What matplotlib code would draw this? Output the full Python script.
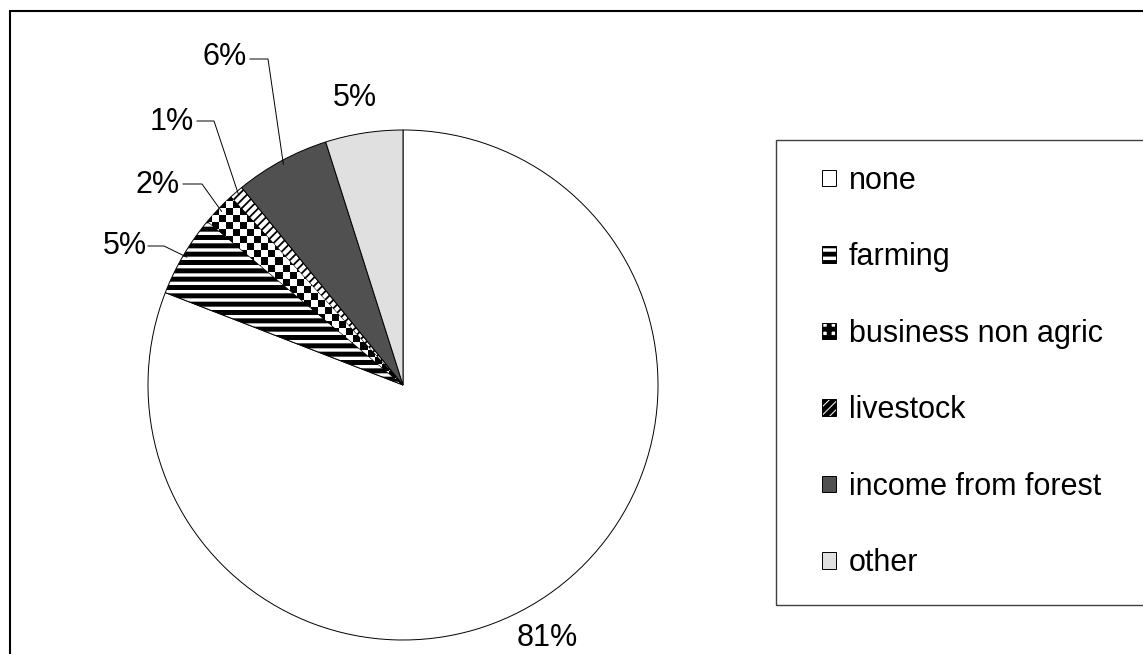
import numpy as np
import matplotlib
matplotlib.use("Agg")
import matplotlib.pyplot as plt
from matplotlib.patches import Rectangle

plt.rcParams['font.family'] = ['Liberation Sans', 'DejaVu Sans']
plt.rcParams['hatch.color'] = 'black'
plt.rcParams['hatch.linewidth'] = 3.5

# Daten
categories = ['none', 'farming', 'business non agric', 'livestock', 'income from forest', 'other']
shares = [80.9, 5.2, 2.1, 0.9, 6.0, 4.9]
colors = ['white', 'white', 'white', 'white', '#505050', '#e0e0e0']
hatches = [None, '--', '++', '////', None, None]

W, H = 1143, 654
fig = plt.figure(figsize=(W / 100, H / 100), dpi=100)

# Kreismittelpunkt und Radius in Pixeln
cx, cy, r = 403, 385, 255
ax = fig.add_axes([(cx - r) / W, (H - cy - r) / H, 2 * r / W, 2 * r / H])

wedges, _ = ax.pie(shares, colors=colors, startangle=90, counterclock=False,
                   radius=1, wedgeprops=dict(edgecolor='black', linewidth=0.7))
for w, h in zip(wedges, hatches):
    if h:
        w.set_hatch(h)
if hasattr(wedges[3], 'set_hatch_linewidth'):
    wedges[1].set_hatch_linewidth(3.6)
    wedges[2].set_hatch_linewidth(1.0)
    wedges[3].set_hatch_linewidth(1.3)

ax.set_aspect('auto')
ax.axis('off')

# Schachbrettmuster für "business non agric"
n = int(2 * r / 7)
board = (np.add.outer(np.arange(n), np.arange(n)) % 2).astype(float)
img = ax.imshow(board, cmap='gray', extent=(-1, 1, -1, 1), interpolation='nearest',
                zorder=wedges[2].get_zorder() + 0.1, vmin=0, vmax=1)
img.set_clip_path(wedges[2])
ax.set_xlim(-1, 1)
ax.set_ylim(-1, 1)


def px(x, y):
    # Pixelkoordinaten -> Datenkoordinaten
    return (x - cx) / r, (cy - y) / r


def mid_point(w):
    ang = np.deg2rad((w.theta1 + w.theta2) / 2)
    return np.cos(ang), np.sin(ang)


labels = ['%d%%' % round(s) for s in shares]
fs = 22

# Beschriftungen ohne Führungslinie
ax.text(*px(547, 638), labels[0], ha='center', va='center', fontsize=fs)
ax.text(*px(355, 98), labels[5], ha='center', va='center', fontsize=fs)

# Beschriftungen mit Führungslinie: (Index, Textmitte, Linienstart, Knick)
leaders = [
    (1, (125, 246), (148, 246), (164, 246)),
    (2, (158, 185), (183, 184), (202, 184)),
    (3, (172, 122), (197, 121), (214, 121)),
    (4, (225, 57), (250, 59), (268, 59)),
]
for i, tpos, start, knee in leaders:
    ax.text(*px(*tpos), labels[i], ha='center', va='center', fontsize=fs)
    ex, ey = mid_point(wedges[i])
    xs = [px(*start)[0], px(*knee)[0], ex * 0.985]
    ys = [px(*start)[1], px(*knee)[1], ey * 0.985]
    ax.plot(xs, ys, color='black', linewidth=0.7, clip_on=False, zorder=5)

# Legende (ohne eigenen Rahmen, Rahmen separat)
leg = fig.legend(wedges, categories, loc='upper left',
                 bbox_to_anchor=(822 / W, 1 - 166 / H), frameon=False,
                 fontsize=fs, handlelength=0.46, handleheight=0.46, handletextpad=0.42,
                 labelspacing=1.52, borderpad=0, borderaxespad=0)
fig.add_artist(Rectangle((776 / W, (H - 605) / H), 0.5, 465 / H, transform=fig.transFigure,
                         fill=False, edgecolor='#404040', linewidth=1.0))

# Rahmen um das Diagramm
fig.add_artist(Rectangle((9.5 / W, -0.1), 1.2, 1 - 11 / H + 0.1, transform=fig.transFigure,
                         fill=False, edgecolor='black', linewidth=1.5))

fig.savefig('out.png', dpi=100)
